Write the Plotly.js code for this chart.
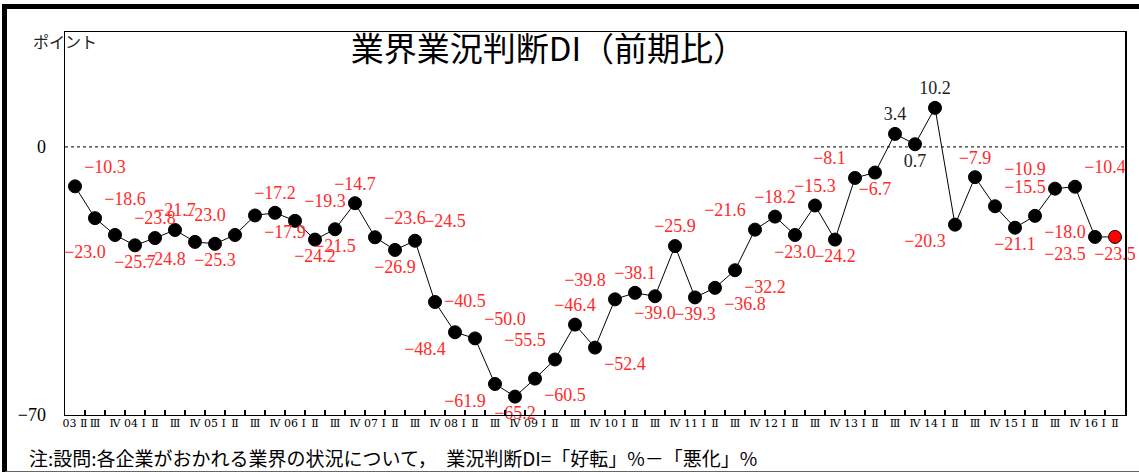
<!DOCTYPE html>
<html>
<head>
<meta charset="utf-8">
<script src="https://cdn.plot.ly/plotly-3.0.1.min.js"></script>
<style>
  html, body { margin: 0; padding: 0; background: #fff; }
  #wrap { position: relative; width: 1139px; height: 472px; overflow: hidden; }
  #chart { position: absolute; left: 0; top: 0; width: 1139px; height: 472px; }
  #frame { position: absolute; left: 2px; top: 4px; width: 1200px; height: 462px;
           border-top: 5px solid #000; border-left: 5px solid #000; border-bottom: 2px solid #666;
           pointer-events: none; }
</style>
</head>
<body>
<div id="wrap">
  <div id="chart"></div>
  <div id="frame"></div>
</div>
<script>
// Quarterly values of the business-conditions DI (2003 Q2 .. 2016 Q2)
const diValues = [
  -10.3, -18.6, -23.0, -25.7, -23.8, -21.7, -24.8, -25.3, -23.0, -17.9,
  -17.2, -19.3, -24.2, -21.5, -14.7, -23.6, -26.9, -24.5, -40.5, -48.4,
  -50.0, -61.9, -65.2, -60.5, -55.5, -46.4, -52.4, -39.8, -38.1, -39.0,
  -25.9, -39.3, -36.8, -32.2, -21.6, -18.2, -23.0, -15.3, -24.2, -8.1,
  -6.7, 3.4, 0.7, 10.2, -20.3, -7.9, -15.5, -21.1, -18.0, -10.9,
  -10.4, -23.5, -23.5
];

// Category (quarter) tick labels
const tickLabels = [
  "03 Ⅱ", "Ⅲ", "Ⅳ",
  "04 Ⅰ", "Ⅱ", "Ⅲ", "Ⅳ",
  "05 Ⅰ", "Ⅱ", "Ⅲ", "Ⅳ",
  "06 Ⅰ", "Ⅱ", "Ⅲ", "Ⅳ",
  "07 Ⅰ", "Ⅱ", "Ⅲ", "Ⅳ",
  "08 Ⅰ", "Ⅱ", "Ⅲ", "Ⅳ",
  "09 Ⅰ", "Ⅱ", "Ⅲ", "Ⅳ",
  "10 Ⅰ", "Ⅱ", "Ⅲ", "Ⅳ",
  "11 Ⅰ", "Ⅱ", "Ⅲ", "Ⅳ",
  "12 Ⅰ", "Ⅱ", "Ⅲ", "Ⅳ",
  "13 Ⅰ", "Ⅱ", "Ⅲ", "Ⅳ",
  "14 Ⅰ", "Ⅱ", "Ⅲ", "Ⅳ",
  "15 Ⅰ", "Ⅱ", "Ⅲ", "Ⅳ",
  "16 Ⅰ", "Ⅱ"
];

// Y tick values / labels
const yTickVals = [-70, 0];
const yTickText = ["\u221270", "0"];

// Label placement (style only)
const labelPos = [
  "top right", "top right", "bottom left", "bottom center", "top center",
  "top center", "bottom left", "bottom center", "top left", "bottom right",
  "top center", "top right", "bottom center", "bottom center", "top center",
  "top right", "bottom center", "top right", "middle right", "bottom left",
  "top right", "bottom left", "bottom center", "bottom right", "top left",
  "top center", "bottom right", "top left", "top center", "bottom center",
  "top center", "bottom center", "bottom right", "bottom right", "top left",
  "top center", "bottom center", "top center", "bottom center", "top left",
  "bottom center", "top center", "bottom center", "top center", "bottom left",
  "top center", "top right", "bottom center", "bottom right", "top left",
  "top right", "bottom left", "bottom center"
];

const xIdx = diValues.map((v, i) => i);
const fmt = v => (v < 0 ? "\u2212" : "") + Math.abs(v).toFixed(1);
const labelText = diValues.map(fmt);
const labelColor = diValues.map(v => v < 0 ? "#ff2a2a" : "#222222");
const markerColor = diValues.map((v, i) => i === diValues.length - 1 ? "#ff0000" : "#000000");

const n = diValues.length;

// invisible copy on the second x axis, so the label axis is drawn
const labelAxisTrace = {
  x: xIdx, y: diValues, type: "scatter", mode: "markers",
  marker: { opacity: 0, size: 1 },
  xaxis: "x2", yaxis: "y", hoverinfo: "skip", showlegend: false
};

const trace = {
  x: xIdx,
  y: diValues,
  type: "scatter",
  mode: "lines+markers+text",
  line: { color: "#000", width: 1 },
  marker: { size: 13, color: markerColor, line: { color: "#000", width: 1 } },
  text: labelText,
  textposition: labelPos,
  textfont: { family: "Liberation Serif, DejaVu Serif, serif", size: 18, color: labelColor },
  cliponaxis: false,
  hoverinfo: "skip"
};

const layout = {
  width: 1139,
  height: 472,
  margin: { l: 65, r: 14, t: 32, b: 57 },
  paper_bgcolor: "#fff",
  plot_bgcolor: "#fff",
  showlegend: false,
  title: {
    text: "業界業況判断DI（前期比）",
    font: { family: "Noto Sans CJK JP, sans-serif", size: 33, color: "#000" },
    x: 0.456, xref: "paper", xanchor: "center",
    y: 1 - 49 / 472, yref: "container", yanchor: "middle"
  },
  // main axis: frame + tick marks on category boundaries
  xaxis: {
    range: [-0.5, n - 0.5],
    tickmode: "linear",
    tick0: -0.5,
    dtick: 1,
    ticks: "inside",
    ticklen: 5,
    tickwidth: 1.2,
    tickcolor: "#000",
    showticklabels: false,
    showgrid: false,
    zeroline: false,
    showline: true,
    linecolor: "#000",
    linewidth: 1,
    mirror: true,
    fixedrange: true
  },
  // overlay axis: category labels centred on each quarter
  xaxis2: {
    overlaying: "x",
    anchor: "y",
    side: "bottom",
    range: [-0.5, n - 0.5],
    tickmode: "array",
    tickvals: xIdx,
    ticktext: tickLabels,
    ticks: "",
    tickangle: 0,
    tickfont: { family: "DejaVu Serif, Liberation Serif, serif", size: 11, color: "#000" },
    showgrid: false,
    zeroline: false,
    showline: false,
    fixedrange: true
  },
  yaxis: {
    range: [-70, 30],
    tickmode: "array",
    tickvals: yTickVals,
    ticktext: yTickText,
    ticks: "",
    tickfont: { family: "Liberation Serif, DejaVu Serif, serif", size: 18, color: "#000" },
    ticklabelstandoff: 14,
    showgrid: false,
    zeroline: false,
    showline: true,
    linecolor: "#000",
    linewidth: 1.5,
    mirror: true,
    fixedrange: true
  },
  shapes: [
    { type: "line", xref: "paper", yref: "y", x0: 0, x1: 1, y0: 0, y1: 0,
      line: { color: "#000", width: 1, dash: "dot" } }
  ],
  annotations: [
    { text: "ポイント", xref: "paper", yref: "paper", x: 0, y: 1, xanchor: "center", yanchor: "middle",
      xshift: 0, yshift: -9, showarrow: false,
      font: { family: "Noto Sans CJK JP, sans-serif", size: 16, color: "#222" } },
    { text: "注:設問:各企業がおかれる業界の状況について，　業況判断DI=「好転」%－「悪化」%",
      xref: "paper", yref: "paper", x: -0.036, y: 0, xanchor: "left", yanchor: "middle",
      yshift: -42, showarrow: false,
      font: { family: "Noto Sans CJK JP, sans-serif", size: 19, color: "#000" } }
  ]
};

Plotly.newPlot("chart", [trace, labelAxisTrace], layout, { staticPlot: true, displayModeBar: false });
</script>
</body>
</html>
